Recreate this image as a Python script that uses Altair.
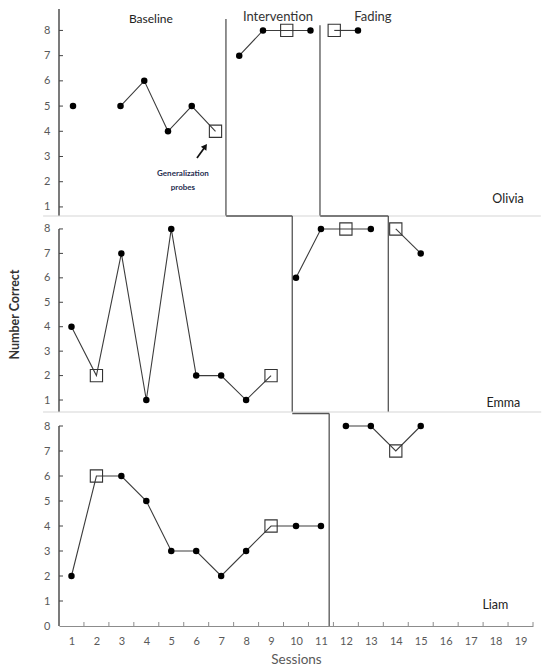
import altair as alt
import pandas as pd

FONT = "Lato"

# ---------------- data ----------------
olivia_session = [1, 3, 4, 5, 6, 7, 8, 9, 10, 11, 12, 13]
olivia_correct = [5, 5, 6, 4, 5, 4, 7, 8, 8, 8, 8, 8]
olivia_probe = [0, 0, 0, 0, 0, 1, 0, 0, 1, 0, 1, 0]
olivia_seg = ["b1", "b2", "b2", "b2", "b2", "b2", "i", "i", "i", "i", "f", "f"]

emma_session = [1, 2, 3, 4, 5, 6, 7, 8, 9, 10, 11, 12, 13, 14, 15]
emma_correct = [4, 2, 7, 1, 8, 2, 2, 1, 2, 6, 8, 8, 8, 8, 7]
emma_probe = [0, 1, 0, 0, 0, 0, 0, 0, 1, 0, 0, 1, 0, 1, 0]
emma_seg = ["b", "b", "b", "b", "b", "b", "b", "b", "b", "i", "i", "i", "i", "f", "f"]

liam_session = [1, 2, 3, 4, 5, 6, 7, 8, 9, 10, 11, 12, 13, 14, 15]
liam_correct = [2, 6, 6, 5, 3, 3, 2, 3, 4, 4, 4, 8, 8, 7, 8]
liam_probe = [0, 1, 0, 0, 0, 0, 0, 0, 1, 0, 0, 0, 0, 1, 0]
liam_seg = ["b", "b", "b", "b", "b", "b", "b", "b", "b", "b", "b", "i", "i", "i", "i"]

session_ticks = list(range(1, 20))

# phase-change lines (x, x2, y, y2) in each panel's data units
olivia_phase_x = [7.44, 11.4]
olivia_phase_x2 = [7.44, 11.4]
olivia_phase_y = [8.45, 8.21]
olivia_phase_y2 = [0.64, 0.64]

emma_phase_x = [9.85, 13.7, 7.2, 10.97]
emma_phase_x2 = [9.85, 13.7, 9.85, 13.7]
emma_phase_y = [8.53, 8.53, 8.53, 8.53]
emma_phase_y2 = [0.51, 0.51, 8.53, 8.53]

liam_phase_x = [11.33, 9.85]
liam_phase_x2 = [11.33, 11.33]
liam_phase_y = [8.5, 8.5]
liam_phase_y2 = [0.0, 8.5]

# ---------------- helpers ----------------
def points_df(s, v, p, seg):
    return pd.DataFrame({"s": s, "v": v, "probe": p, "seg": seg})


def rules_df(x, x2, y, y2):
    return pd.DataFrame({"x": x, "x2": x2, "y": y, "y2": y2})


def panel(pts, phase, texts, xdom, ydom, height, yvals, unit_x, unit_y,
          sep_ext, axis_top, xaxis=False, show_title=False, note=None, arrow=None):
    xs = alt.Scale(domain=xdom, nice=False, zero=False)
    ys = alt.Scale(domain=ydom, nice=False, zero=False)

    yaxis = alt.Axis(values=yvals, orient="left", ticks=False, domain=False, grid=False,
                     labelPadding=9, labelFontSize=11, labelColor="#595959",
                     title="Number Correct", titleFontSize=12.5,
                     titleColor="#333333" if show_title else "#ffffff",
                     titleFontWeight="bold", titlePadding=22)

    if xaxis:
        xaxis_obj = alt.Axis(
            values=session_ticks, orient="bottom", title="Sessions", ticks=False, grid=False,
            domainColor="#8c8c8c", labelPadding=9, labelFontSize=11,
            labelColor="#595959", titleFontSize=13.5,
            titleColor="#595959", titleFontWeight="normal", titlePadding=6)
    else:
        xaxis_obj = None

    def X(f):
        return alt.X(f, scale=xs, axis=xaxis_obj)

    def Y(f):
        return alt.Y(f, scale=ys, axis=yaxis)

    src = alt.Chart(pts)
    line = src.mark_line(color="#3c3c3c", strokeWidth=1.1).encode(
        x=X("s:Q"), y=Y("v:Q"), detail="seg:N", order="s:Q")
    dots = src.transform_filter("datum.probe == 0").mark_circle(
        size=42, color="black", opacity=1).encode(x=X("s:Q"), y=Y("v:Q"))
    squares = src.transform_filter("datum.probe == 1").mark_point(
        shape="square", size=150, filled=False, color="#333333", strokeWidth=1.1,
        opacity=1).encode(x=X("s:Q"), y=Y("v:Q"))

    def rule_layer(df, color, width):
        return alt.Chart(df).mark_rule(color=color, strokeWidth=width).encode(
            x=X("x:Q"), x2="x2:Q", y=Y("y:Q"), y2="y2:Q")

    x0 = xdom[0]
    axis_line = rules_df([x0], [x0], [ydom[0]], [axis_top])
    tick_vals = [v for v in yvals if v > 0]
    yticks = rules_df([x0] * len(tick_vals), [x0 + 4 / unit_x] * len(tick_vals),
                      tick_vals, tick_vals)

    layers = [line, rule_layer(phase, "#555555", 1.3), dots, squares,
              rule_layer(axis_line, "#222222", 1.2),
              rule_layer(yticks, "#444444", 1)]

    if xaxis:
        xt = [i + 0.5 for i in range(1, 20)]
        layers.append(rule_layer(rules_df(xt, xt, [0] * len(xt),
                                          [4 / unit_y] * len(xt)), "#8c8c8c", 1))
    else:
        layers.append(rule_layer(rules_df([sep_ext[0]], [sep_ext[1]],
                                          [ydom[0]], [ydom[0]]), "#d6d6d6", 1.2))

    txt = alt.Chart(texts).mark_text(baseline="middle", align="center").encode(
        x=X("s:Q"), y=Y("v:Q"),
        text="label:N",
        size=alt.Size("fs:Q", scale=None, legend=None),
        color=alt.Color("col:N", scale=None, legend=None))
    layers.append(txt)

    if note is not None:
        layers.append(alt.Chart(note).mark_text(
            fontWeight="bold", fontSize=8, color="#1f2d4f",
            baseline="middle", align="center").encode(
            x=X("s:Q"), y=Y("v:Q"), text="label:N"))
    if arrow is not None:
        adf, hdf = arrow
        layers.append(rule_layer(adf, "#111111", 1.7))
        layers.append(alt.Chart(hdf).mark_point(
            shape="triangle-up", filled=True, color="#111111", size=45, angle=35,
            opacity=1).encode(x=X("s:Q"), y=Y("v:Q")))

    return alt.layer(*layers).properties(width=474, height=height)


# ---------------- panels ----------------
olivia_texts = pd.DataFrame({
    "s": [4.28, 9.63, 13.63, 19.32],
    "v": [8.47, 8.53, 8.52, 1.31],
    "label": ["Baseline", "Intervention", "Fading", "Olivia"],
    "fs": [12, 13, 13, 12.5],
    "col": ["#222222", "#333333", "#333333", "#222222"],
})
olivia_note = pd.DataFrame({"s": [5.63, 5.63], "v": [2.30, 1.75],
                            "label": ["Generalization", "probes"]})
olivia_arrow = (rules_df([6.22], [6.57], [2.94], [3.40]),
                pd.DataFrame({"s": [6.57], "v": [3.40]}))

emma_texts = pd.DataFrame({"s": [18.31], "v": [0.88], "label": ["Emma"],
                           "fs": [12.5], "col": ["#222222"]})
liam_texts = pd.DataFrame({"s": [17.99], "v": [0.84], "label": ["Liam"],
                           "fs": [12.5], "col": ["#222222"]})

p_olivia = panel(points_df(olivia_session, olivia_correct, olivia_probe, olivia_seg),
                 rules_df(olivia_phase_x, olivia_phase_x2, olivia_phase_y, olivia_phase_y2),
                 olivia_texts, [0.41, 20.37], [0.64, 8.85], 207,
                 [1, 2, 3, 4, 5, 6, 7, 8], 23.75, 25.2, [-0.26, 20.7], 8.85,
                 note=olivia_note, arrow=olivia_arrow)

p_emma = panel(points_df(emma_session, emma_correct, emma_probe, emma_seg),
               rules_df(emma_phase_x, emma_phase_x2, emma_phase_y, emma_phase_y2),
               emma_texts, [0.5, 19.5], [0.51, 8.53], 196,
               [1, 2, 3, 4, 5, 6, 7, 8], 24.93, 24.43, [-0.14, 19.83], 8,
               show_title=True)

p_liam = panel(points_df(liam_session, liam_correct, liam_probe, liam_seg),
               rules_df(liam_phase_x, liam_phase_x2, liam_phase_y, liam_phase_y2),
               liam_texts, [0.5, 19.5], [0.0, 8.56], 214,
               [0, 1, 2, 3, 4, 5, 6, 7, 8], 24.93, 25.0, [-0.14, 19.83], 8,
               xaxis=True)

chart = alt.vconcat(p_olivia, p_emma, p_liam, spacing=0, bounds="flush").properties(
    padding={"left": 0, "top": 0, "right": 0, "bottom": 0}
).configure(font=FONT).configure_view(stroke=None)

chart.save("out.html", embed_options={"renderer": "svg", "actions": False})
